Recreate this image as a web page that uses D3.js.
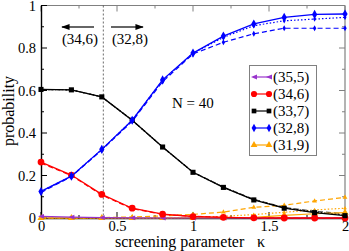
<!DOCTYPE html>
<html>
<head>
<meta charset="utf-8">
<script src="https://cdn.jsdelivr.net/npm/d3@7"></script>
<style>
  body { margin: 0; background: #fff; }
  text { font-family: "Liberation Serif", "Times New Roman", serif; }
</style>
</head>
<body>
<div id="chart"></div>
<script>
// screening parameter values
let kappa = [0, 0.2, 0.4, 0.6, 0.8, 1.0, 1.2, 1.4, 1.6, 1.8, 2.0];

// (35,5)
let p355 = [0.008, 0.004, 0.002, 0.001, 0, 0, 0, 0, 0, 0, 0];
// (34,6)
let p346 = [0.263, 0.202, 0.111, 0.046, 0.018, 0.007, 0.003, 0.001, 0, 0, 0];
let p346Dash = [0.258, 0.2, 0.108, 0.044, 0.017, 0.008, 0.003, 0.001, 0, 0, 0];
// (33,7)
let p337 = [0.605, 0.603, 0.57, 0.46, 0.334, 0.215, 0.144, 0.085, 0.046, 0.025, 0.011];
let p337Dash = [0.605, 0.603, 0.57, 0.46, 0.334, 0.216, 0.146, 0.088, 0.05, 0.032, 0.02];
let p337Dot = [0.605, 0.603, 0.57, 0.46, 0.334, 0.215, 0.145, 0.086, 0.048, 0.028, 0.015];
// (32,8)
let p328 = [0.125, 0.197, 0.323, 0.46, 0.65, 0.776, 0.856, 0.913, 0.944, 0.958, 0.96];
let p328Dash = [0.12, 0.195, 0.32, 0.455, 0.642, 0.772, 0.827, 0.867, 0.893, 0.893, 0.893];
let p328Dot = [0.125, 0.197, 0.322, 0.46, 0.648, 0.775, 0.85, 0.905, 0.928, 0.936, 0.944];
// (31,9)
let p319 = [0, 0, 0, 0, 0, 0, 0, 0.003, 0.012, 0.02, 0.025];
let p319Dash = [0, 0, 0.002, 0.005, 0.01, 0.017, 0.028, 0.05, 0.06, 0.08, 0.097];
let p319Dot = [0, 0, 0, 0, 0, 0.003, 0.008, 0.016, 0.027, 0.038, 0.046];

let legendLabels = ['(35,5)', '(34,6)', '(33,7)', '(32,8)', '(31,9)'];
let xTicks = [0, 0.5, 1, 1.5, 2];
let yTicks = [0, 0.2, 0.4, 0.6, 0.8, 1];
let kappaCut = 0.41;

let width = 349, height = 251;
let x0 = 41, x1 = 345, y0 = 218, y1 = 5.5;

let svg = d3.select('#chart')
.append('svg')
.attr('width', width)
.attr('height', height);

let x = d3.scaleLinear().domain([0, 2]).range([x0, x1]);
let y = d3.scaleLinear().domain([0, 1]).range([y0, y1]);

// frame: top and right in grey
svg.append('line').attr('x1', x0).attr('x2', x1).attr('y1', y1).attr('y2', y1)
.attr('stroke', '#808080').attr('stroke-width', 1.2);
svg.append('line').attr('x1', x1).attr('x2', x1).attr('y1', y1).attr('y2', y0)
.attr('stroke', '#808080').attr('stroke-width', 1.2);

// inner ticks on all four sides
let xMinor = d3.range(0, 2.001, 0.25);
let yMinor = d3.range(0, 1.001, 0.1);
function tickLen(v, step) { return Math.abs(v / step - Math.round(v / step)) < 1e-6 ? 6 : 3; }

let ticks = svg.append('g').attr('stroke-width', 1);
xMinor.forEach(function(v) {
  let l = tickLen(v, 0.5);
  ticks.append('line').attr('x1', x(v)).attr('x2', x(v)).attr('y1', y0).attr('y2', y0 - l).attr('stroke', '#000');
  ticks.append('line').attr('x1', x(v)).attr('x2', x(v)).attr('y1', y1).attr('y2', y1 + l).attr('stroke', '#808080');
});
yMinor.forEach(function(v) {
  let l = tickLen(v, 0.2);
  ticks.append('line').attr('x1', x0).attr('x2', x0 + l).attr('y1', y(v)).attr('y2', y(v)).attr('stroke', '#000');
  ticks.append('line').attr('x1', x1).attr('x2', x1 - l).attr('y1', y(v)).attr('y2', y(v)).attr('stroke', '#808080');
});

// axes with labels
let xAxis = d3.axisBottom(x).tickValues(xTicks).tickSize(0).tickPadding(3)
.tickFormat(d3.format('~g'));
let yAxis = d3.axisLeft(y).tickValues(yTicks).tickSize(0).tickPadding(5)
.tickFormat(d3.format('~g'));

svg.append('g').attr('transform', 'translate(0,' + y0 + ')').call(xAxis)
.call(function(g) { g.select('.domain').attr('stroke', '#000').attr('stroke-width', 1.4); })
.selectAll('text').style('font-size', '14.5px').style('font-family', '"Liberation Serif", serif').attr('fill', '#000');

svg.append('g').attr('transform', 'translate(' + x0 + ',0)').call(yAxis)
.call(function(g) { g.select('.domain').attr('stroke', '#000').attr('stroke-width', 1.4); })
.selectAll('text').style('font-size', '14.5px').style('font-family', '"Liberation Serif", serif').attr('fill', '#000');

// axis titles
let xTitle = svg.append('text')
.attr('x', 115)
.attr('y', 247)
.style('font-size', '16px');
xTitle.append('tspan').text('screening parameter');
xTitle.append('tspan').attr('x', 257).text('κ');

svg.append('text')
.attr('transform', 'translate(14,111) rotate(-90)')
.attr('text-anchor', 'middle')
.style('font-size', '16px')
.text('probability');

// vertical dotted line at the cut
svg.append('line')
.attr('x1', x(kappaCut)).attr('x2', x(kappaCut))
.attr('y1', y1).attr('y2', y0)
.attr('stroke', '#444').attr('stroke-width', 0.8)
.attr('stroke-dasharray', '2,2');

// arrows and labels
let defs = svg.append('defs');
defs.append('marker')
.attr('id', 'arrow')
.attr('viewBox', '0 0 10 10')
.attr('refX', 9).attr('refY', 5)
.attr('markerWidth', 7).attr('markerHeight', 7)
.attr('orient', 'auto-start-reverse')
.append('path').attr('d', 'M0,1.5 L10,5 L0,8.5 Z').attr('fill', '#000');

svg.append('line').attr('x1', 94).attr('x2', 62).attr('y1', 27).attr('y2', 27)
.attr('stroke', '#000').attr('stroke-width', 1.2).attr('marker-end', 'url(#arrow)');
svg.append('line').attr('x1', 111).attr('x2', 143).attr('y1', 27).attr('y2', 27)
.attr('stroke', '#000').attr('stroke-width', 1.2).attr('marker-end', 'url(#arrow)');

svg.append('text').attr('x', 80).attr('y', 44).attr('text-anchor', 'middle')
.style('font-size', '15px').text(legendLabels[1]);
svg.append('text').attr('x', 130).attr('y', 44).attr('text-anchor', 'middle')
.style('font-size', '15px').text(legendLabels[3]);

svg.append('text').attr('x', 172).attr('y', 108)
.style('font-size', '15px').text('N = 40');

// series drawing
let line = d3.line()
.x(function(d) { return x(d[0]); })
.y(function(d) { return y(d[1]); });

function pts(vals) { return kappa.map(function(k, i) { return [k, vals[i]]; }); }

let symDiamond = d3.symbol().type(d3.symbolDiamond);
let symSquare = d3.symbol().type(d3.symbolSquare);
let symCircle = d3.symbol().type(d3.symbolCircle);
let symTriangle = d3.symbol().type(d3.symbolTriangle);

// left-pointing triangle
function leftTri(s) {
  return 'M' + (-s) + ',0L' + s + ',' + (-s * 0.8) + 'L' + s + ',' + (s * 0.8) + 'Z';
}

function drawSeries(vals, color, dash, shape, size, width) {
  let g = svg.append('g');
  g.append('path')
  .datum(pts(vals))
  .attr('d', line)
  .attr('fill', 'none')
  .attr('stroke', color)
  .attr('stroke-width', width)
  .attr('stroke-dasharray', dash);
  if (!shape) return;
  g.selectAll('path.m')
  .data(pts(vals))
  .enter()
  .append('path')
  .attr('class', 'm')
  .attr('transform', function(d) { return 'translate(' + x(d[0]) + ',' + y(d[1]) + ')'; })
  .attr('d', shape === 'left' ? leftTri(size) : shape.size(size)())
  .attr('fill', color);
}

let orange = '#ffa500', purple = '#9933cc', red = '#ff0000', blue = '#0000ff';

// dashed / dotted variants first
drawSeries(p319Dash, orange, '5,3', symTriangle, 10, 1.2);
drawSeries(p319Dot, orange, '1.5,2', symTriangle, 6, 1.2);
drawSeries(p346Dash, red, '5,3', symCircle, 10, 1.2);
drawSeries(p337Dash, '#555', '5,3', symSquare, 8, 1.2);
drawSeries(p337Dot, '#000', '1.5,2', symSquare, 6, 1.2);
drawSeries(p328Dash, blue, '5,3', symDiamond, 10, 1.2);
drawSeries(p328Dot, blue, '1.5,2', symDiamond, 8, 1.2);

// solid main series
drawSeries(p319, orange, null, symTriangle, 22, 1.2);
drawSeries(p355, purple, null, 'left', 3, 1.2);
drawSeries(p346, red, null, symCircle, 36, 1.3);
drawSeries(p337, '#000', null, symSquare, 26, 1.3);
drawSeries(p328, blue, null, symDiamond, 24, 1.3);

// legend
let legend = svg.append('g');
legend.append('rect')
.attr('x', 249.5).attr('y', 65.5)
.attr('width', 67).attr('height', 90)
.attr('fill', '#fff')
.attr('stroke', '#808080')
.attr('stroke-width', 1);

let legendColors = [purple, red, '#000', blue, orange];
let legendShapes = ['left', symCircle, symSquare, symDiamond, symTriangle];
let legendSizes = [3, 30, 22, 20, 20];

legendLabels.forEach(function(lab, i) {
  let ly = 77 + i * 17;
  legend.append('line').attr('x1', 253).attr('x2', 270).attr('y1', ly).attr('y2', ly)
  .attr('stroke', legendColors[i]).attr('stroke-width', 1.2);
  [254, 269].forEach(function(mx) {
    legend.append('path')
    .attr('transform', 'translate(' + mx + ',' + ly + ')')
    .attr('d', legendShapes[i] === 'left' ? leftTri(legendSizes[i]) : legendShapes[i].size(legendSizes[i])())
    .attr('fill', legendColors[i]);
  });
  legend.append('text').attr('x', 273).attr('y', ly + 5)
  .style('font-size', '15px').text(lab);
});
</script>
</body>
</html>
